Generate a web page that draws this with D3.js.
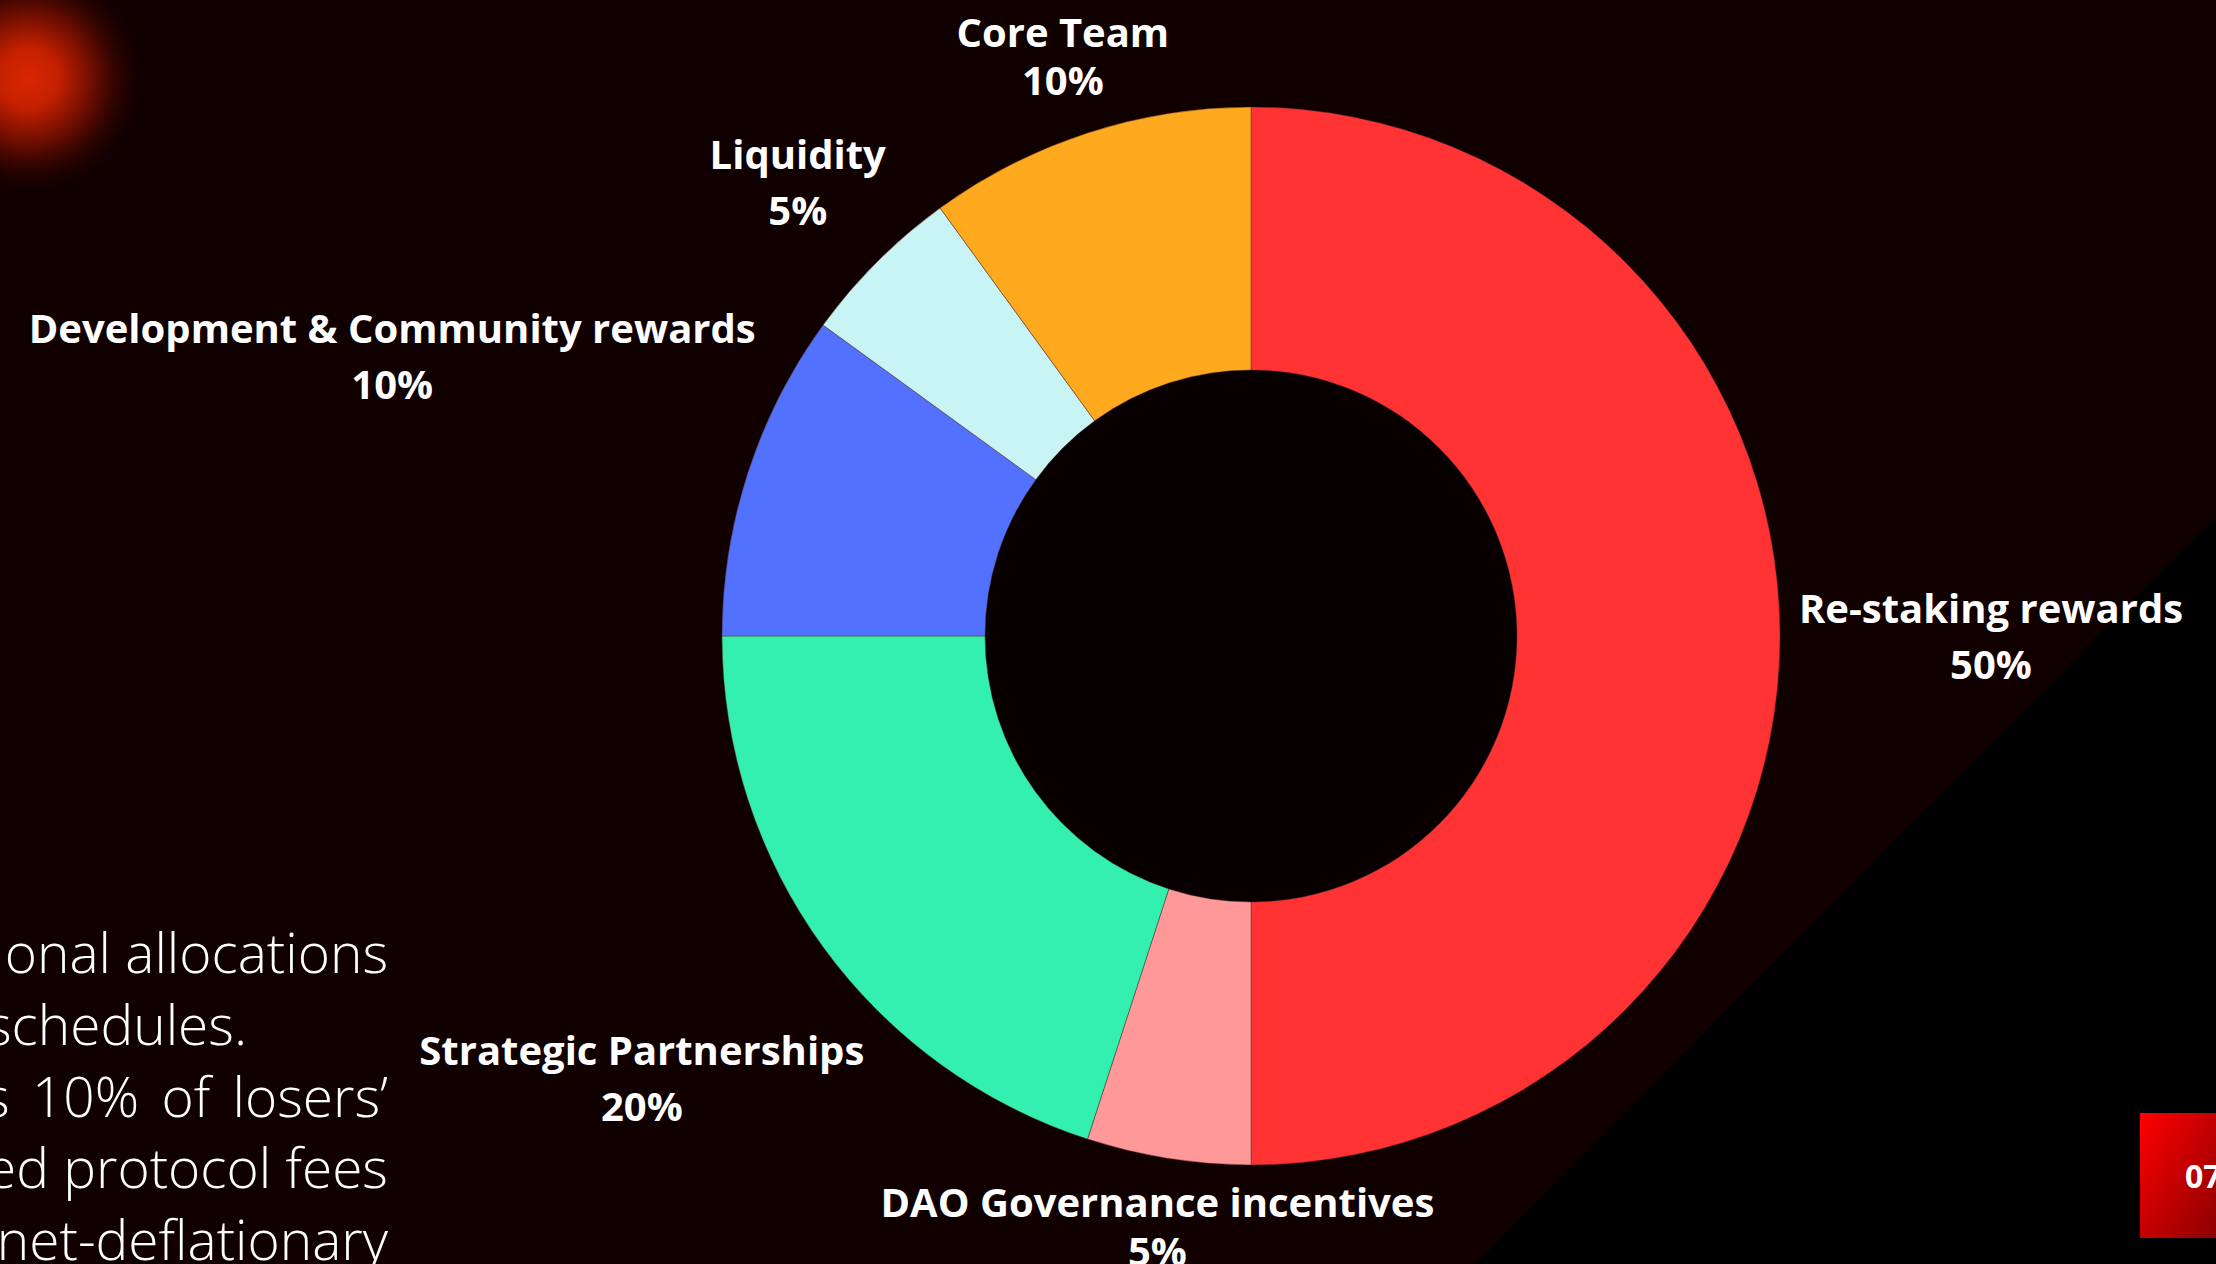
<!DOCTYPE html>
<html>
<head>
<meta charset="utf-8">
<script src="https://cdn.jsdelivr.net/npm/d3@7"></script>
<style>
  html, body { margin: 0; padding: 0; background: #110000; overflow: hidden; }
  svg { display: block; }
</style>
</head>
<body>
<div id="chart"></div>
<script>
// token allocation
const categories = ["Re-staking rewards", "DAO Governance incentives", "Strategic Partnerships",
  "Development & Community rewards", "Liquidity", "Core Team"];
const shares = [50, 5, 20, 10, 5, 10];
const sliceColors = ["#ff3333", "#ff9999", "#33efb0", "#5271ff", "#c9f4f5", "#ffa91f"];

// body text on the left (cut by the slide edge)
const bodyLines = ["onal allocations", "schedules.", "s 10% of losers\u2019", "ed protocol fees", "net-deflationary"];

const pageNumber = "07";

window.onload = () => { draw(); }

function draw() {
  const width = 2216,
  height = 1264,
  cx = 1251,
  cy = 636,
  outer = 529,
  inner = 266;

  const svg = d3.select("#chart").append("svg")
    .attr("width", width)
    .attr("height", height);

  const defs = svg.append("defs");

  // red glow top-left
  const glow = defs.append("radialGradient").attr("id", "glow")
    .attr("cx", 0.5).attr("cy", 0.5).attr("r", 0.5);
  glow.append("stop").attr("offset", "0%").attr("stop-color", "#d92600");
  glow.append("stop").attr("offset", "25%").attr("stop-color", "#c42000");
  glow.append("stop").attr("offset", "60%").attr("stop-color", "#5a0a00");
  glow.append("stop").attr("offset", "100%").attr("stop-color", "#110000").attr("stop-opacity", 0);

  // page number box
  const boxGrad = defs.append("linearGradient").attr("id", "boxGrad")
    .attr("x1", 0).attr("y1", 0).attr("x2", 1).attr("y2", 1);
  boxGrad.append("stop").attr("offset", "0%").attr("stop-color", "#ff0000");
  boxGrad.append("stop").attr("offset", "100%").attr("stop-color", "#8c0000");

  svg.append("rect").attr("width", width).attr("height", height).attr("fill", "#110000");

  svg.append("circle")
    .attr("cx", 28).attr("cy", 78).attr("r", 120)
    .attr("fill", "url(#glow)");

  // black corner bottom-right
  svg.append("path")
    .attr("d", "M" + width + ",516 L1475," + height + " L" + width + "," + height + " Z")
    .attr("fill", "#000000");

  // donut
  const pie = d3.pie().sort(null).startAngle(0).endAngle(2 * Math.PI);
  const arcs = pie(shares);
  const arc = d3.arc().innerRadius(inner).outerRadius(outer);

  const g = svg.append("g").attr("transform", "translate(" + cx + "," + cy + ")");

  g.append("circle").attr("r", inner).attr("fill", "#080000");

  g.selectAll("path.slice")
    .data(arcs)
    .enter().append("path")
    .attr("class", "slice")
    .attr("d", arc)
    .attr("fill", (d, i) => sliceColors[i])
    .attr("stroke", "rgba(90,40,40,0.45)")
    .attr("stroke-width", 1);

  // labels along each slice's mid angle (distance and line gap per label)
  const labelDist = [740, 598, 753, 903, 641, 609];
  const labelGap = [56, 49, 56, 56, 56, 48];
  const capH = 29;
  const fmt = d => d + "%";

  const labels = g.selectAll("text.label")
    .data(arcs)
    .enter().append("text")
    .attr("class", "label")
    .attr("text-anchor", "middle")
    .attr("fill", "#ffffff")
    .style("font-family", "'Open Sans', 'Noto Sans', sans-serif")
    .style("font-weight", 700)
    .style("font-size", "40px")
    .attr("transform", (d, i) => {
      const a = (d.startAngle + d.endAngle) / 2;
      const x = Math.sin(a) * labelDist[i];
      const y = -Math.cos(a) * labelDist[i];
      return "translate(" + x + "," + y + ")";
    });

  labels.append("tspan")
    .attr("x", 0).attr("y", (d, i) => -labelGap[i] / 2 + capH / 2)
    .text((d, i) => categories[i]);
  labels.append("tspan")
    .attr("x", 0).attr("y", (d, i) => labelGap[i] / 2 + capH / 2)
    .text(d => fmt(d.data));

  // body paragraph
  const body = svg.append("g")
    .style("font-family", "'Open Sans', 'Noto Sans', sans-serif")
    .style("font-weight", 350)
    .style("font-size", "55px")
    .attr("fill", "#ffffff");

  const rightEdge = 388;
  const bodyText = body.selectAll("text")
    .data(bodyLines)
    .enter().append("text")
    .attr("x", d => d == "schedules." ? -14 : rightEdge)
    .attr("y", (d, i) => 973 + i * 71.8)
    .attr("text-anchor", d => d == "schedules." ? "start" : "end")
    .text(d => d);

  // the justified line with wide gaps
  bodyText.filter(d => d.startsWith("s 10%")).each(function(d) {
    const w = this.getComputedTextLength();
    const spaces = d.split(" ").length - 1;
    const extra = (rightEdge + 16 - w) / spaces;
    if (extra > 0) d3.select(this).style("word-spacing", extra + "px");
  });

  // page number
  svg.append("rect")
    .attr("x", 2140).attr("y", 1113)
    .attr("width", width - 2140).attr("height", 125)
    .attr("fill", "url(#boxGrad)");
  svg.append("text")
    .attr("x", 2185).attr("y", 1188)
    .attr("fill", "#ffffff")
    .style("font-family", "'Open Sans', sans-serif")
    .style("font-weight", 700)
    .style("font-size", "32px")
    .text(pageNumber);
}
</script>
</body>
</html>
